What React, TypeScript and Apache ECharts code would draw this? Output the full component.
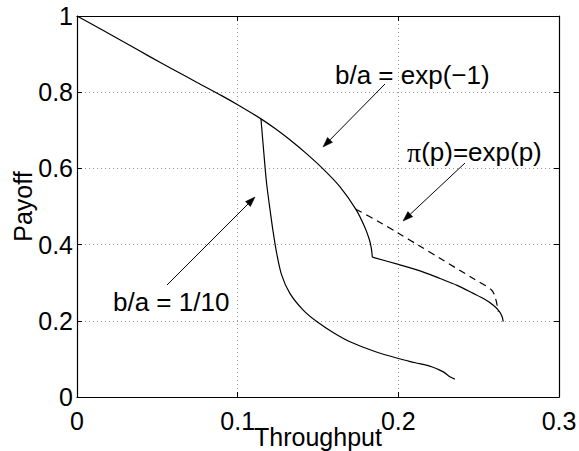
import React, { useEffect, useRef } from "react";
import * as echarts from "echarts";

// b/a = exp(-1) curve (solid): upper part down to the kink
const mainX = [0, 0.015, 0.03, 0.045, 0.061, 0.075, 0.09, 0.1, 0.1145, 0.1235, 0.1325, 0.143, 0.1533, 0.1636, 0.1735, 0.179, 0.1819, 0.1832, 0.1838];
const mainY = [1, 0.965, 0.93, 0.894, 0.857, 0.825, 0.791, 0.767, 0.73, 0.704, 0.675, 0.638, 0.598, 0.552, 0.493, 0.447, 0.414, 0.39, 0.367];

// b/a = exp(-1) curve (solid): after the kink
const tailX = [0.1838, 0.2, 0.2135, 0.2259, 0.2366, 0.2466, 0.2535, 0.2591, 0.2625, 0.2645, 0.2653];
const tailY = [0.367, 0.348, 0.331, 0.311, 0.293, 0.272, 0.257, 0.241, 0.227, 0.212, 0.198];

// b/a = 1/10 branch (solid)
const lowX = [0.1145, 0.1162, 0.118, 0.1202, 0.1222, 0.1243, 0.1274, 0.1325, 0.1408, 0.1492, 0.1599, 0.1699, 0.185, 0.2, 0.2105, 0.2207, 0.228, 0.2321, 0.2352];
const lowY = [0.73, 0.645, 0.561, 0.49, 0.43, 0.377, 0.32, 0.272, 0.228, 0.198, 0.168, 0.145, 0.12, 0.101, 0.09, 0.0795, 0.066, 0.053, 0.047];

// pi(p) = exp(p) branch (dashed)
const dashX = [0.1735, 0.187, 0.2, 0.213, 0.2259, 0.2466, 0.258, 0.2605, 0.2622];
const dashY = [0.493, 0.462, 0.43, 0.397, 0.364, 0.311, 0.281, 0.259, 0.224];

const xTicks = ["0", "0.1", "0.2", "0.3"];
const yTicks = ["0", "0.2", "0.4", "0.6", "0.8", "1"];

const FONT = "'Liberation Sans', Arial, Helvetica, sans-serif";

function zip(xs: number[], ys: number[]) {
  return xs.map((x, i) => [x, ys[i]]);
}

function arrow(x1: number, y1: number, x2: number, y2: number) {
  const a = Math.atan2(y2 - y1, x2 - x1);
  const L = 10;
  const W = 3.5;
  const c = Math.cos(a);
  const s = Math.sin(a);
  const bx = x2 - L * c;
  const by = y2 - L * s;
  return [
    {
      type: "line",
      shape: { x1, y1, x2: bx, y2: by },
      style: { stroke: "#000", lineWidth: 1 },
    },
    {
      type: "polygon",
      shape: {
        points: [
          [x2, y2],
          [bx - W * s, by + W * c],
          [bx + W * s, by - W * c],
        ],
      },
      style: { fill: "#000", stroke: "#000", lineWidth: 0.5 },
    },
  ];
}

function label(text: string, x: number, y: number, rich?: any) {
  return {
    type: "text",
    x,
    y,
    style: {
      text,
      fontSize: 26,
      fontFamily: FONT,
      fill: "#000",
      align: "left",
      verticalAlign: "middle",
      textAlign: "left",
      textVerticalAlign: "middle",
      rich,
    },
  };
}

export default function App() {
  const ref = useRef<HTMLDivElement>(null);
  useEffect(() => {
    if (!ref.current) return;
    const chart = echarts.init(ref.current, null, { renderer: "svg" });
    const axisCommon = {
      type: "value",
      axisLine: { show: true, onZero: false, lineStyle: { color: "#000", width: 1.2 } },
      axisTick: { show: true, inside: true, length: 5, lineStyle: { color: "#000", width: 1 } },
      minorTick: { show: false },
    };
    const gridLine = { show: true, lineStyle: { color: "#999", type: [1, 3], width: 1 } };
    const lineSeries = (xs: number[], ys: number[], dashed = false) => ({
      type: "line",
      data: zip(xs, ys),
      symbol: "none",
      smooth: 0.3,
      smoothMonotone: "none",
      lineStyle: { color: "#000", width: 1.2, type: dashed ? [7, 5] : "solid" },
      xAxisIndex: 0,
      yAxisIndex: 0,
    });
    chart.setOption({
      animation: false,
      backgroundColor: "#fff",
      grid: {
        left: 77,
        top: 16,
        right: 20,
        bottom: 54,
        containLabel: false,
        outerBoundsMode: "none",
      },
      xAxis: [
        {
          ...axisCommon,
          position: "bottom",
          min: 0,
          max: 0.3,
          interval: 0.1,
          splitLine: gridLine,
          axisLabel: {
            show: true,
            fontSize: 25,
            fontFamily: FONT,
            color: "#000",
            margin: 11,
            formatter: (v: number) => xTicks[Math.round(v * 10)] ?? "",
          },
          name: "Throughput",
          nameLocation: "middle",
          nameGap: 27,
          nameMoveOverlap: false,
          nameTextStyle: { fontSize: 25, fontFamily: FONT, color: "#000", verticalAlign: "top", lineHeight: 25 },
        },
        {
          ...axisCommon,
          position: "top",
          min: 0,
          max: 0.3,
          interval: 0.1,
          splitLine: { show: false },
          axisLabel: { show: false },
        },
      ],
      yAxis: [
        {
          ...axisCommon,
          position: "left",
          min: 0,
          max: 1,
          interval: 0.2,
          splitLine: gridLine,
          axisLabel: {
            show: true,
            fontSize: 25,
            fontFamily: FONT,
            color: "#000",
            margin: 4,
            formatter: (v: number) => yTicks[Math.round(v * 5)] ?? "",
          },
          name: "Payoff",
          nameLocation: "middle",
          nameGap: 54,
          nameRotate: 90,
          nameMoveOverlap: false,
          nameTextStyle: { fontSize: 25, fontFamily: FONT, color: "#000", verticalAlign: "middle" },
        },
        {
          ...axisCommon,
          position: "right",
          min: 0,
          max: 1,
          interval: 0.2,
          splitLine: { show: false },
          axisLabel: { show: false },
        },
      ],
      series: [
        lineSeries(mainX, mainY),
        lineSeries(tailX, tailY),
        lineSeries(lowX, lowY),
        lineSeries(dashX, dashY, true),
      ],
      graphic: [
        label("b/a = exp(\u22121)", 335, 75),
        ...arrow(385, 84, 323, 147),
        label("{pi|\u03c0}(p)=exp(p)", 407, 152, {
          pi: { fontSize: 28, fontFamily: "'Liberation Serif', 'DejaVu Serif', serif", fill: "#000" },
        }),
        ...arrow(465, 163, 403, 221),
        label("b/a = 1/10", 113, 302),
        ...arrow(167, 285, 255, 197),
      ],
    });
    return () => chart.dispose();
  }, []);
  return (
    <div
      ref={ref}
      style={{ position: "fixed", left: 0, top: 0, width: 579, height: 451, background: "#fff" }}
    />
  );
}
